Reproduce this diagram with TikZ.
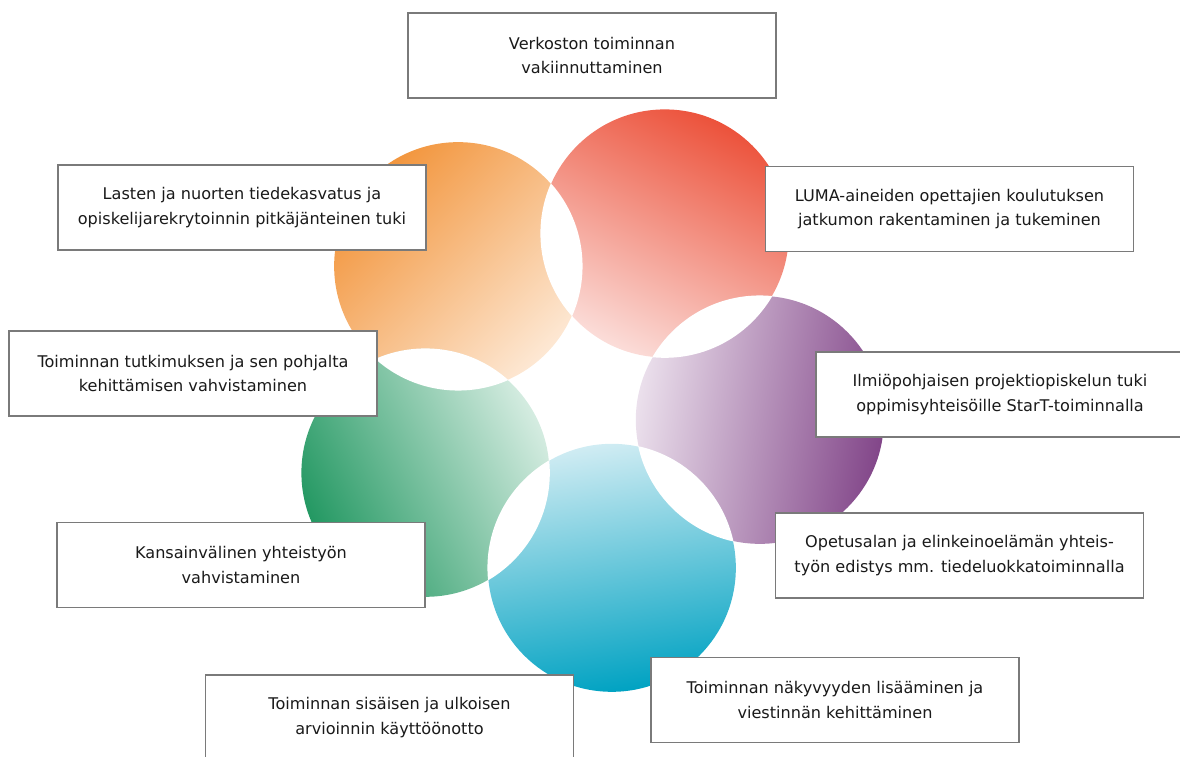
\documentclass[tikz,border=0pt]{standalone}
\usepackage{fontspec}
\setmainfont{DejaVu Sans}
\usetikzlibrary{calc}

% petal colours: outer (saturated) and inner (pale) tone of each circle
\definecolor{orOut}{HTML}{F2953C}
\definecolor{orIn}{HTML}{FDE8D4}
\definecolor{reOut}{HTML}{EC523B}
\definecolor{reIn}{HTML}{FBDDD9}
\definecolor{puOut}{HTML}{824689}
\definecolor{puIn}{HTML}{EBE0EC}
\definecolor{blOut}{HTML}{00A2C2}
\definecolor{blIn}{HTML}{D0ECF3}
\definecolor{grOut}{HTML}{239862}
\definecolor{grIn}{HTML}{D5ECE1}
\definecolor{boxline}{HTML}{7A7A7A}
\definecolor{boxtext}{HTML}{1A1A1A}

\tikzset{
  infobox/.style={draw=boxline, line width=1.5pt, fill=white,
    minimum width=368pt, minimum height=85pt, inner sep=0pt,
    align=center, text=boxtext, font=\fontsize{16.1}{24.5}\selectfont},
  petal/.style n args={3}{top color=#1, bottom color=#2, shading angle=#3}
}

\begin{document}
\begin{tikzpicture}[x=1pt,y=-1pt]
\useasboundingbox (0,0) rectangle (1180,756);

% five petals on a ring around the flower centre
\coordinate (mid) at (584,392);
\foreach \a/\nm in {9/pu,81/bl,153/gr,225/or,297/re}
  \coordinate (\nm) at ($(mid)+(\a:178)$);

\shade[petal={orOut}{orIn}{45.1}]   (or) circle[radius=124pt];
\shade[petal={reOut}{reIn}{-26.9}]  (re) circle[radius=124pt];
\shade[petal={puOut}{puIn}{-98.9}]  (pu) circle[radius=124pt];
\shade[petal={blOut}{blIn}{-170.9}] (bl) circle[radius=124pt];
\shade[petal={grOut}{grIn}{117.1}]  (gr) circle[radius=124pt];

% white lenses where neighbouring petals overlap
\foreach \p/\q in {or/re,re/pu,pu/bl,bl/gr,gr/or}{
  \begin{scope}
    \clip (\p) circle[radius=124.4pt];
    \fill[white] (\q) circle[radius=124.4pt];
  \end{scope}
}

% labelled boxes
\node[infobox] (top)   at (592,55.5)   {Verkoston toiminnan\\vakiinnuttaminen};
\node[infobox] (kids)  at (242,207.5)  {Lasten ja nuorten tiedekasvatus ja\\opiskelijarekrytoinnin pitkäjänteinen tuki};
\node[infobox] (luma)  at (949.5,209)  {LUMA-aineiden opettajien koulutuksen\\jatkumon rakentaminen ja tukeminen};
\node[infobox] (res)   at (193,373.5)  {Toiminnan tutkimuksen ja sen pohjalta\\kehittämisen vahvistaminen};
\node[infobox] (start) at (1000,394.5) {Ilmiöpohjaisen projektiopiskelun tuki\\oppimisyhteisöille StarT-toiminnalla};
\node[infobox] (intl)  at (241,565)    {Kansainvälinen yhteistyön\\vahvistaminen};
\node[infobox] (work)  at (959.5,555.5){Opetusalan ja elinkeinoelämän yhteis-\\työn edistys mm. tiedeluokkatoiminnalla};
\node[infobox] (eval)  at (389.5,717.5) {Toiminnan sisäisen ja ulkoisen\\arvioinnin käyttöönotto};
\node[infobox] (vis)   at (835,700)    {Toiminnan näkyvyyden lisääminen ja\\viestinnän kehittäminen};
\end{tikzpicture}
\end{document}
